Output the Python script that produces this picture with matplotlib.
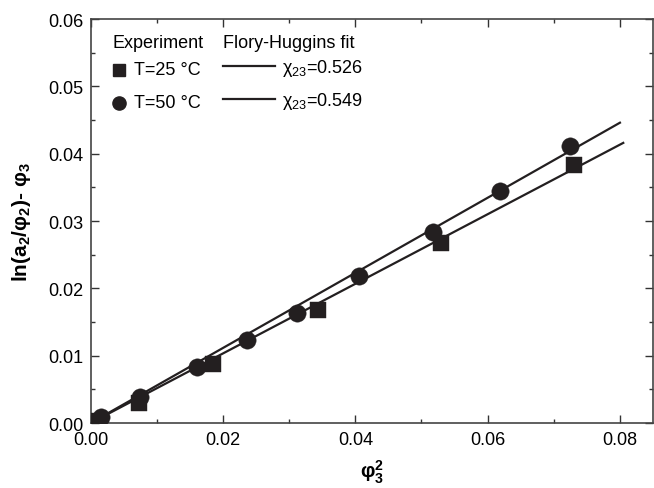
import matplotlib
matplotlib.use("Agg")
import matplotlib.pyplot as plt
from matplotlib.ticker import MultipleLocator

plt.rcParams["font.family"] = ["Liberation Sans", "DejaVu Sans"]
plt.rcParams["mathtext.fontset"] = "custom"
plt.rcParams["mathtext.rm"] = "Liberation Sans"
plt.rcParams["mathtext.it"] = "Liberation Sans:italic"
plt.rcParams["mathtext.bf"] = "Liberation Sans:bold"

# Experimental data: phi3^2 vs ln(a2/phi2) - phi3
x_25 = [0.0005, 0.0073, 0.0185, 0.0344, 0.0529, 0.0730]
y_25 = [0.0003, 0.0030, 0.0087, 0.0168, 0.0268, 0.0383]
x_50 = [0.0016, 0.0074, 0.0161, 0.0237, 0.0312, 0.0405, 0.0517, 0.0619, 0.0725]
y_50 = [0.0009, 0.0038, 0.0083, 0.0123, 0.0164, 0.0218, 0.0283, 0.0345, 0.0412]

# Flory-Huggins fit lines (end points)
fit_x_25 = [0.0, 0.0805]
fit_y_25 = [0.0, 0.0416]
fit_x_50 = [0.0, 0.0800]
fit_y_50 = [0.0, 0.0446]

chi_25 = "0.526"
chi_50 = "0.549"
series_labels = ["T=25 °C", "T=50 °C"]

ink = "#231f20"

fig = plt.figure(figsize=(6.54, 4.89), dpi=100)
ax = fig.add_axes([0.1387, 0.1329, 0.8598, 0.8262])

ax.plot(fit_x_25, fit_y_25, color=ink, lw=1.6, zorder=2)
ax.plot(fit_x_50, fit_y_50, color=ink, lw=1.6, zorder=2)
ax.plot(x_25, y_25, "s", color=ink, ms=11, mec=ink, mew=0.3, zorder=3)
ax.plot(x_50, y_50, "o", color=ink, ms=12.5, mec=ink, mew=0.3, zorder=4)

ax.set_xlim(0, 0.085)
ax.set_ylim(0, 0.06)
ax.xaxis.set_major_locator(MultipleLocator(0.02))
ax.xaxis.set_minor_locator(MultipleLocator(0.01))
ax.yaxis.set_major_locator(MultipleLocator(0.01))
ax.yaxis.set_minor_locator(MultipleLocator(0.005))
ax.xaxis.set_major_formatter(lambda v, p: f"{v:.2f}")
ax.yaxis.set_major_formatter(lambda v, p: f"{v:.2f}")

ax.tick_params(which="both", direction="in", top=True, right=True,
               colors="#333333", labelcolor="black", width=1.0)
ax.tick_params(which="major", length=6, labelsize=13)
ax.tick_params(which="minor", length=3)
ax.tick_params(axis="x", pad=6)
ax.tick_params(axis="y", pad=5)
for s in ax.spines.values():
    s.set_color("#444444")
    s.set_linewidth(1.2)

ax.set_xlabel(r"φ$_\mathbf{3}^\mathbf{2}$", fontsize=14.5, fontweight="bold", labelpad=7)
ax.set_ylabel(r"ln(a$_\mathbf{2}$/φ$_\mathbf{2}$)- φ$_\mathbf{3}$", fontsize=15,
              fontweight="bold", labelpad=11)

# Legend drawn in axes coordinates
def axc(px, py):
    return ((px - 90.7) / 562.3, (424 - py) / 404.0)

tr = ax.transAxes
fs = 13
ax.text(*axc(112.7, 43.5), "Experiment", transform=tr, fontsize=fs, va="center", ha="left")
ax.text(*axc(222.7, 43.5), "Flory-Huggins fit", transform=tr, fontsize=fs, va="center", ha="left")

ax.plot(*axc(119, 70.5), "s", color=ink, ms=8.5, transform=tr, clip_on=False)
ax.plot(*axc(119, 103.5), "o", color=ink, ms=9.5, transform=tr, clip_on=False)
ax.text(*axc(134, 70), series_labels[0], transform=tr, fontsize=fs, va="center", ha="left")
ax.text(*axc(134, 103.5), series_labels[1], transform=tr, fontsize=fs, va="center", ha="left")

for py, chi in [(66.7, chi_25), (100.3, chi_50)]:
    (x0, y0), (x1, _) = axc(223, py), axc(275, py)
    ax.plot([x0, x1], [y0, y0], color=ink, lw=1.6, transform=tr, clip_on=False)
    ax.text(*axc(281.5, py + 1.5), r"χ$_\mathregular{23}$=" + chi, transform=tr,
            fontsize=fs, va="center", ha="left")

fig.savefig("out.png", dpi=100)
